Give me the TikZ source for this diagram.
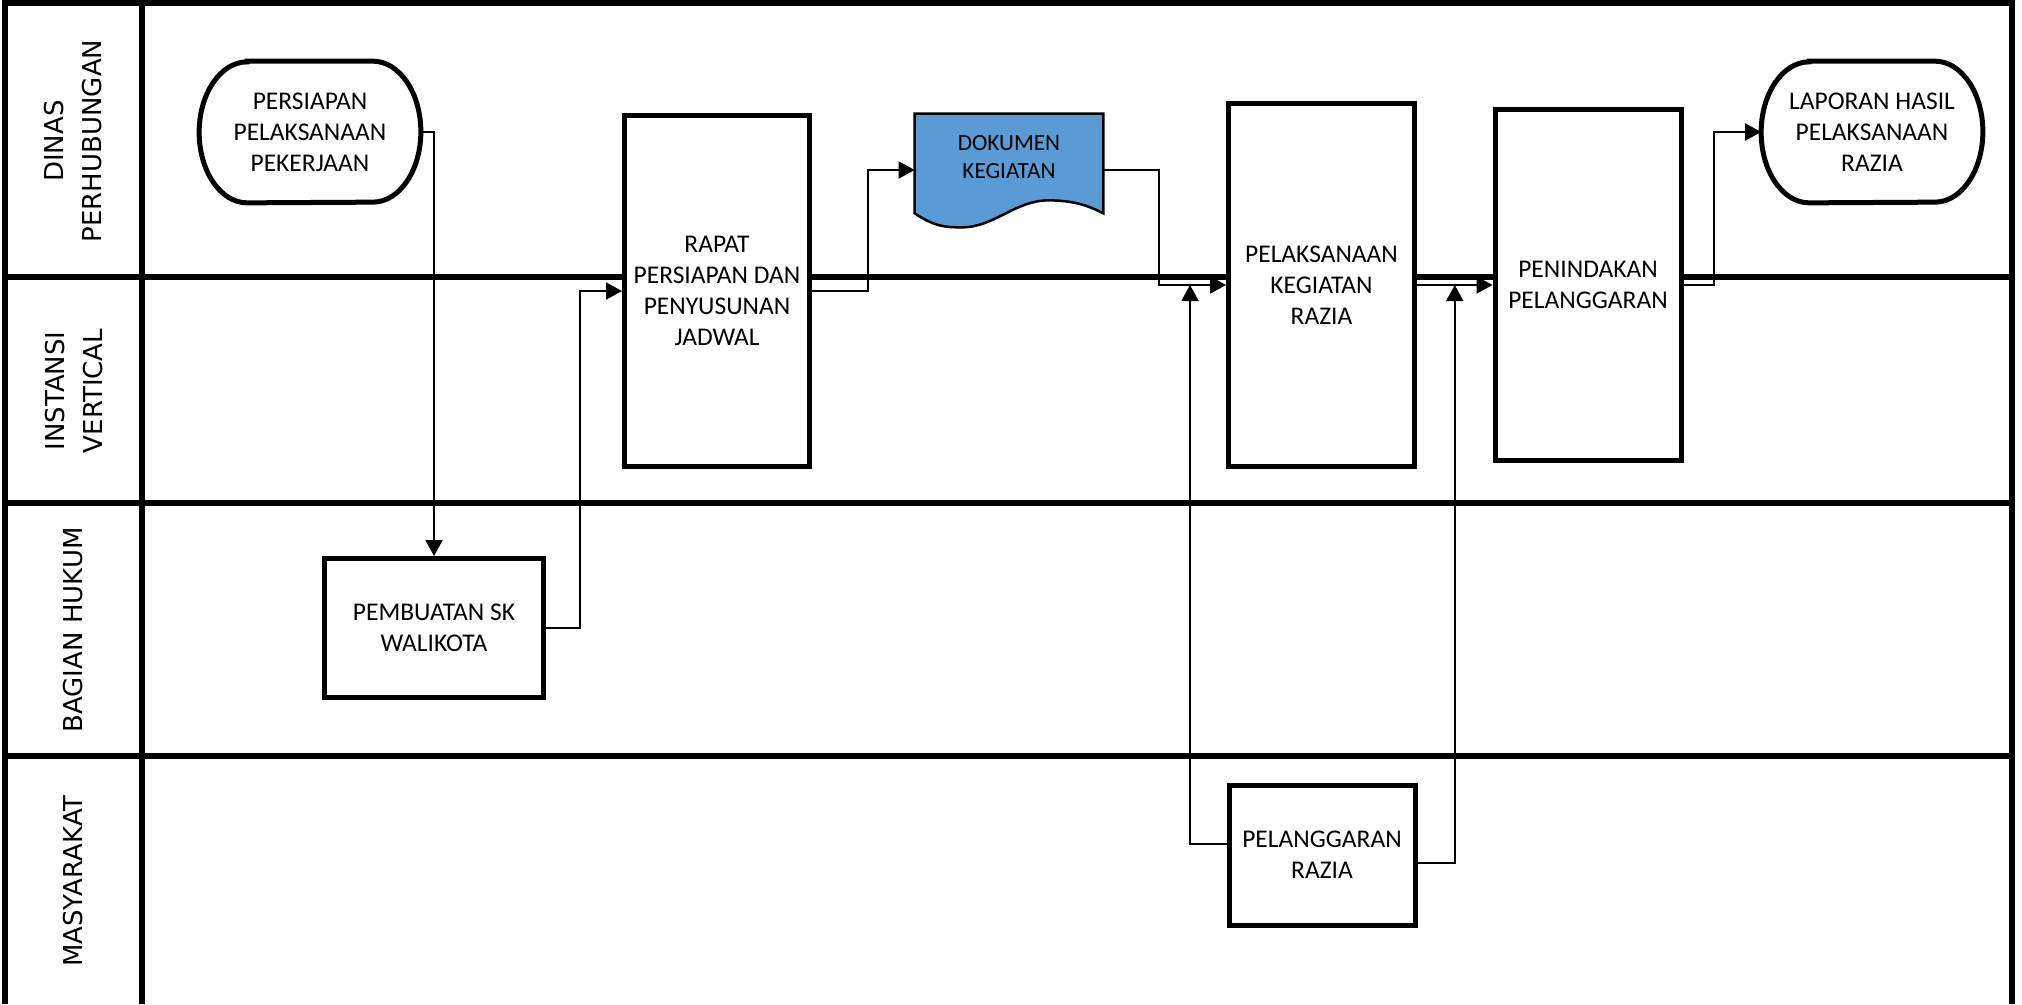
\documentclass[tikz,border=0pt]{standalone}
\usepackage{fontspec}
\setmainfont{Carlito}
\newfontfamily\lanefont{DejaVu Sans}
\usetikzlibrary{arrows.meta,calc,backgrounds}
\definecolor{dokblue}{HTML}{5B9BD5}
\tikzset{
  lane/.style={line width=1.1mm},
  process/.style={
    draw,
    fill=white,
    line width=1mm,
    align=center,
    inner sep=0pt,
    font=\fontsize{14.5}{17.6}\selectfont
  },
  terminal/.style={
    align=center,
    inner sep=0pt,
    minimum width=44.2mm,
    minimum height=28.2mm,
    font=\fontsize{14.5}{17.6}\selectfont
  },
  termline/.style={line width=1mm},
  docbox/.style={
    align=center,
    inner sep=0pt,
    minimum width=37.6mm,
    minimum height=17.2mm,
    font=\fontsize{13.2}{16}\selectfont
  },
  docline/.style={line width=0.5mm, fill=dokblue},
  lanelabel/.style={rotate=90, align=center, font={\lanefont\fontsize{14.8}{22}\selectfont}},
  flow/.style={line width=0.4mm, -{Triangle[length=3.2mm,width=3.4mm]}}
}

\begin{document}
\begin{tikzpicture}[x=0.2mm,y=0.2mm]
\useasboundingbox (0,0) rectangle (2022,-1004);

% --- Swimlane frame ---
\draw[lane] (5,-1004) -- (5,-3) -- (2012,-3) -- (2012,-1004);
\draw[lane] (142,-3) -- (142,-1004);
\foreach \y in {277,503,756}
  \draw[lane] (5,-\y) -- (2012,-\y);

% --- Lane labels ---
\node[lanelabel] (dishub) at (73,-141) {DINAS\\PERHUBUNGAN};
\node[lanelabel] (instansi) at (74,-391) {INSTANSI\\VERTICAL};
\node[lanelabel] (hukum) at (73,-630) {BAGIAN HUKUM};
\node[lanelabel] (masyarakat) at (73,-881) {MASYARAKAT};

% --- Dinas Perhubungan / Instansi Vertical ---
\node[terminal] (mulai) at (310,-132) {PERSIAPAN\\PELAKSANAAN\\PEKERJAAN};
\node[process, minimum width=37mm, minimum height=70.2mm] (rapat) at (717,-291) {RAPAT\\PERSIAPAN DAN\\PENYUSUNAN\\JADWAL};
\node[docbox] (dok) at (1009,-157) {DOKUMEN\\KEGIATAN};
\node[process, minimum width=37.2mm, minimum height=72.6mm] (laks) at (1321.5,-285) {PELAKSANAAN\\KEGIATAN\\RAZIA};
\node[process, minimum width=37.2mm, minimum height=70.2mm] (penin) at (1588,-285) {PENINDAKAN\\PELANGGARAN};
\node[terminal] (lapor) at (1872,-132) {LAPORAN HASIL\\PELAKSANAAN\\RAZIA};

% terminal outlines
\foreach \n in {mulai,lapor}
  \draw[termline] ($(\n.north west)+(48,0)$) -- ($(\n.north east)+(-48,0)$)
    arc[start angle=90,end angle=-90,x radius=48,y radius=70.5]
    -- ($(\n.south west)+(48,0)$)
    arc[start angle=270,end angle=90,x radius=48,y radius=70.5] -- cycle;

% document outline
\begin{scope}[on background layer]
\draw[docline] (dok.north west) -- ($(dok.south west)+(0,-13)$)
  .. controls ($(dok.south west)+(20,-26)$) and ($(dok.south west)+(30,-27)$) .. ($(dok.south west)+(47,-27)$)
  .. controls ($(dok.south west)+(80,-27)$) and ($(dok.south west)+(100,0)$) .. ($(dok.south west)+(134,0)$)
  .. controls ($(dok.south west)+(160,0)$) and ($(dok.south west)+(175,-6)$) .. ($(dok.south east)+(0,-13)$)
  -- (dok.north east) -- cycle;
\end{scope}

% --- Bagian Hukum ---
\node[process, minimum width=43.8mm, minimum height=27.8mm] (sk) at (434,-628) {PEMBUATAN SK\\WALIKOTA};

% --- Masyarakat ---
\node[process, minimum width=37.2mm, minimum height=28mm] (langgar) at (1322,-855) {PELANGGARAN\\RAZIA};

% --- Flow ---
\draw[flow] (mulai.east) -| (sk.north);
\draw[flow] (sk.east) -- ++(34,0) |- (rapat.west);
\draw[flow] (rapat.east) -- ++(56,0) |- ([yshift=-2.6mm]dok.west);
\draw[flow] ([yshift=-2.6mm]dok.east) -- ++(56,0) |- (laks.west);
\draw[flow] ([yshift=2.2mm]langgar.west) -| ([xshift=-7.2mm]laks.west);
\draw[flow] (laks.east) -- (penin.west);
\draw[flow] ([yshift=-1.6mm]langgar.east) -| ($(laks.east)!0.5!(penin.west)$);
\draw[flow] (penin.east) -- ++(30,0) |- (lapor.west);

\end{tikzpicture}
\end{document}
